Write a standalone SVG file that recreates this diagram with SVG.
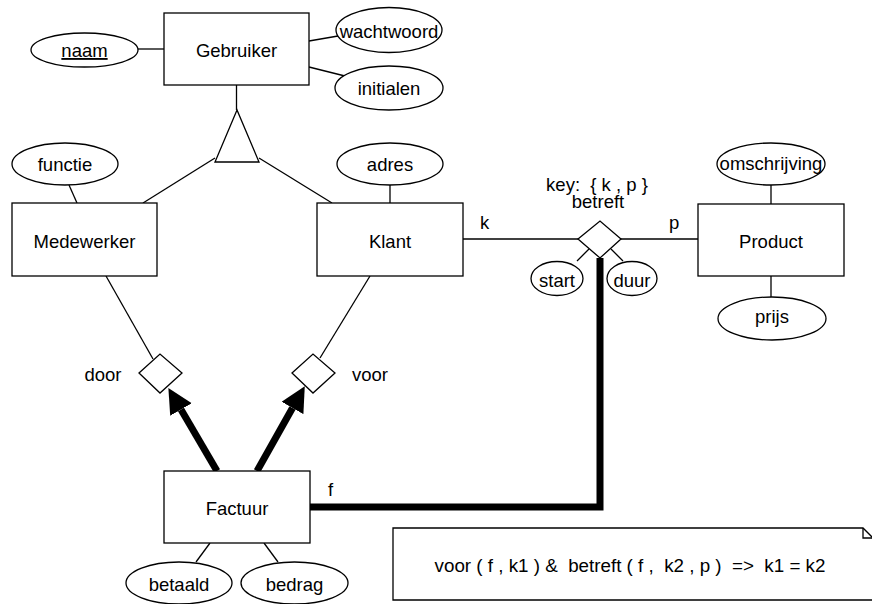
<svg xmlns="http://www.w3.org/2000/svg" width="872" height="604" viewBox="0 0 872 604">
<defs>
<style>
.ent{fill:#fff;stroke:#000;stroke-width:1.3}
.attr{fill:#fff;stroke:#000;stroke-width:1.3}
.rel{fill:#fff;stroke:#000;stroke-width:1.3}
.ln{stroke:#000;stroke-width:1.3;fill:none}
.thick{stroke:#000;stroke-width:7;fill:none}
text{font-family:"Liberation Sans",Arial,sans-serif;font-size:18.5px;fill:#000}
.c{text-anchor:middle}
.pre{white-space:pre}
.note{font-size:18.8px}
</style>
<marker id="ah" markerUnits="userSpaceOnUse" markerWidth="26" markerHeight="26" refX="0" refY="12.5" orient="auto" viewBox="0 0 26 26">
<path d="M0,0 L25,12.5 L0,25 Z" fill="#000"/>
</marker>
</defs>
<rect width="872" height="604" fill="#fff"/>
<g id="connectors">
<line class="ln" x1="138" y1="49" x2="164" y2="49"/>
<line class="ln" x1="309" y1="41" x2="338" y2="36"/>
<line class="ln" x1="309" y1="67" x2="345" y2="76"/>
<line class="ln" x1="236.5" y1="85" x2="236.5" y2="110"/>
<line class="ln" x1="215" y1="158" x2="143" y2="203"/>
<line class="ln" x1="259" y1="158" x2="332" y2="203"/>
<line class="ln" x1="69" y1="185" x2="77" y2="203"/>
<line class="ln" x1="390" y1="185" x2="390" y2="203"/>
<line class="ln" x1="463" y1="239" x2="578" y2="239"/>
<line class="ln" x1="621" y1="239" x2="698" y2="239"/>
<line class="ln" x1="771" y1="185" x2="771" y2="204"/>
<line class="ln" x1="771" y1="276" x2="771" y2="297"/>
<line class="ln" x1="589" y1="249" x2="577" y2="261"/>
<line class="ln" x1="611" y1="249" x2="623" y2="261"/>
<line class="ln" x1="106" y1="276" x2="153" y2="359"/>
<line class="ln" x1="370" y1="276" x2="320" y2="358"/>
<line class="ln" x1="210" y1="543" x2="196" y2="562"/>
<line class="ln" x1="264" y1="543" x2="278" y2="562"/>
<path class="thick" d="M310,507 H600 V258"/>
<line class="thick" x1="217" y1="471" x2="181" y2="409.5" marker-end="url(#ah)"/>
<line class="thick" x1="257" y1="471" x2="292.5" y2="408" marker-end="url(#ah)"/>
</g>
<g id="Gebruiker"><rect class="ent" x="164" y="13" width="145" height="72"/><text class="c" x="236.5" y="57">Gebruiker</text></g>
<g id="naam"><ellipse class="attr" cx="84.5" cy="50" rx="53.5" ry="17"/><text class="c" x="84.5" y="57" text-decoration="underline">naam</text></g>
<g id="wachtwoord"><ellipse class="attr" cx="389" cy="30" rx="53" ry="22.5"/><text class="c" x="389" y="38">wachtwoord</text></g>
<g id="initialen"><ellipse class="attr" cx="389" cy="88" rx="54" ry="22"/><text class="c" x="389" y="95">initialen</text></g>
<g id="isa"><polygon class="rel" points="237,110 215,162 259,162"/></g>
<g id="functie"><ellipse class="attr" cx="65" cy="164" rx="53" ry="21"/><text class="c" x="65" y="171">functie</text></g>
<g id="Medewerker"><rect class="ent" x="12" y="203" width="145" height="73"/><text class="c" x="84.5" y="248">Medewerker</text></g>
<g id="adres"><ellipse class="attr" cx="390" cy="164" rx="53" ry="21"/><text class="c" x="390" y="171">adres</text></g>
<g id="Klant"><rect class="ent" x="317" y="203" width="146" height="73"/><text class="c" x="390" y="248">Klant</text></g>
<g id="betreft"><polygon class="rel" points="578,239 600,221 621,239 600,258"/><text class="c pre" x="597" y="191">key:  { k , p }</text><text class="c" x="598" y="208">betreft</text><text x="480" y="229">k</text><text x="669" y="229">p</text></g>
<g id="start"><ellipse class="attr" cx="557" cy="278.5" rx="26" ry="17"/><text class="c" x="557" y="287">start</text></g>
<g id="duur"><ellipse class="attr" cx="632" cy="278.5" rx="25" ry="17"/><text class="c" x="632" y="287">duur</text></g>
<g id="Product"><rect class="ent" x="698" y="204" width="146" height="72"/><text class="c" x="771" y="248">Product</text></g>
<g id="omschrijving"><ellipse class="attr" cx="771" cy="164" rx="54" ry="21"/><text class="c" x="771" y="170">omschrijving</text></g>
<g id="prijs"><ellipse class="attr" cx="772" cy="318.5" rx="54" ry="21.5"/><text class="c" x="772" y="323">prijs</text></g>
<g id="door"><polygon class="rel" points="139,373 160,354 182,373 160,393"/><text class="c" x="103" y="381">door</text></g>
<g id="voor"><polygon class="rel" points="292,373 313,354 335,373 313,393"/><text class="c" x="370" y="381">voor</text></g>
<g id="Factuur"><rect class="ent" x="164" y="471" width="146" height="72"/><text class="c" x="237" y="515">Factuur</text><text x="328" y="496">f</text></g>
<g id="betaald"><ellipse class="attr" cx="179" cy="583" rx="53" ry="21"/><text class="c" x="179" y="591">betaald</text></g>
<g id="bedrag"><ellipse class="attr" cx="294.5" cy="583" rx="53.5" ry="21"/><text class="c" x="294.5" y="591">bedrag</text></g>
<g id="note"><path class="ln" d="M393,528 H863 L875,540 V600 H393 Z"/><path class="ln" d="M863,528 V538 H873"/><text class="c pre note" x="630" y="572">voor ( f , k1 ) &amp;  betreft ( f ,  k2 , p )  =&gt;  k1 = k2</text></g>
</svg>
